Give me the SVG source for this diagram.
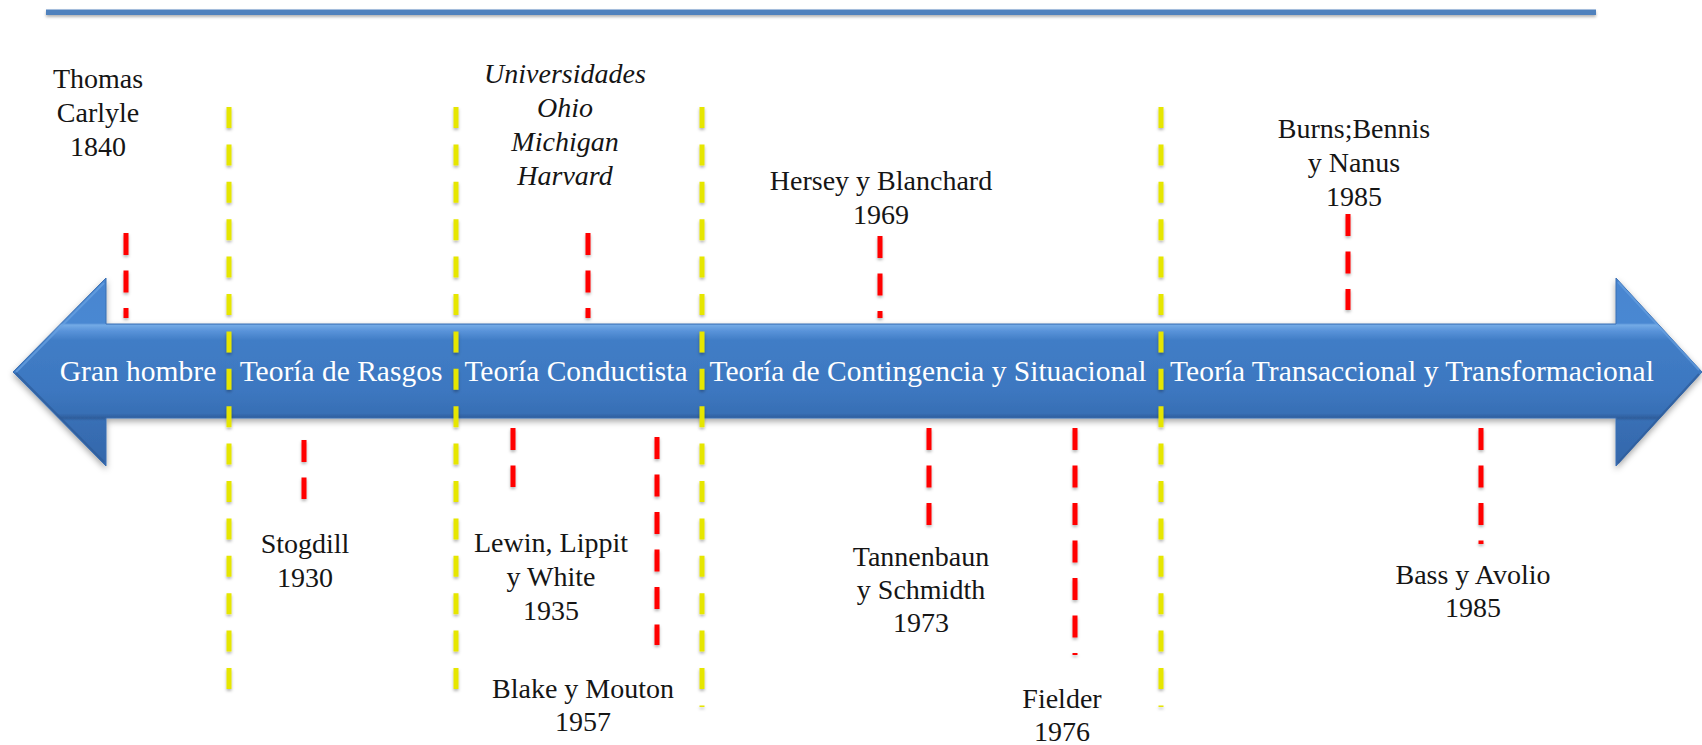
<svg xmlns="http://www.w3.org/2000/svg" width="1702" height="745" viewBox="0 0 1702 745">
<defs>
<linearGradient id="arrowGrad" x1="0" y1="278" x2="0" y2="466" gradientUnits="userSpaceOnUse">
<stop offset="0" stop-color="#4785d0"/>
<stop offset="0.24" stop-color="#4a88d2"/>
<stop offset="0.25" stop-color="#74abe6"/>
<stop offset="0.28" stop-color="#5a94da"/>
<stop offset="0.33" stop-color="#417dc6"/>
<stop offset="0.6" stop-color="#3c77c0"/>
<stop offset="0.72" stop-color="#386fb5"/>
<stop offset="0.745" stop-color="#2e5d9b"/>
<stop offset="0.76" stop-color="#386fb5"/>
<stop offset="1" stop-color="#3467aa"/>
</linearGradient>
<filter id="shadow" x="-5%" y="-20%" width="110%" height="140%">
<feDropShadow dx="0" dy="3" stdDeviation="3" flood-color="#000" flood-opacity="0.35"/>
</filter>
<filter id="lineShadow" filterUnits="userSpaceOnUse" x="0" y="0" width="1702" height="745">
<feDropShadow dx="0" dy="2" stdDeviation="1.5" flood-color="#000" flood-opacity="0.3"/>
</filter>
<style>
.lbl{font-family:"Liberation Serif","Times New Roman",serif;font-size:28px;fill:#151515;text-anchor:middle}
.it{font-style:italic}
.alb{font-family:"Liberation Serif","Times New Roman",serif;font-size:29.5px;fill:#ffffff;text-anchor:middle}
.yel{stroke:#e6e600;stroke-width:5;stroke-dasharray:21 16.4;fill:none}
.red{stroke:#ff0000;stroke-width:5;stroke-dasharray:22 15.5;fill:none}
</style>
</defs>

<g id="topline">
<rect x="46" y="9.5" width="1550" height="5.5" fill="#4f81bd" filter="url(#lineShadow)"/>
</g>

<g id="arrow">
<path d="M13,372 L106,278 L106,324 L1616,324 L1616,278 L1702,372 L1616,466 L1616,418 L106,418 L106,466 Z" fill="url(#arrowGrad)" stroke="#3a6fb3" stroke-width="1" filter="url(#shadow)"/>
<path d="M16,372 L104,283" stroke="#6aa3e3" stroke-width="2" fill="none" opacity="0.7"/>
<path d="M1618,282 L1699,370" stroke="#6aa3e3" stroke-width="2" fill="none" opacity="0.6"/>
<path d="M16,373 L104,462" stroke="#2d5b98" stroke-width="2" fill="none" opacity="0.7"/>
<path d="M1618,463 L1699,374" stroke="#2d5b98" stroke-width="2" fill="none" opacity="0.7"/>
<text class="alb" x="138" y="381">Gran hombre</text>
<text class="alb" x="341" y="381">Teoría de Rasgos</text>
<text class="alb" x="576" y="381">Teoría Conductista</text>
<text class="alb" x="928" y="381">Teoría de Contingencia y Situacional</text>
<text class="alb" x="1412" y="381">Teoría Transaccional y Transformacional</text>
</g>

<g id="connectors" filter="url(#lineShadow)">
<line class="yel" x1="229" y1="107" x2="229" y2="690"/>
<line class="yel" x1="456" y1="107" x2="456" y2="690"/>
<line class="yel" x1="702" y1="107" x2="702" y2="707"/>
<line class="yel" x1="1161" y1="107" x2="1161" y2="707"/>
<line class="red" x1="126" y1="233" x2="126" y2="318"/>
<line class="red" x1="588" y1="233" x2="588" y2="318"/>
<line class="red" x1="880" y1="236" x2="880" y2="318"/>
<line class="red" x1="1348" y1="214" x2="1348" y2="310"/>
<line class="red" x1="304" y1="440" x2="304" y2="499"/>
<line class="red" x1="513" y1="428" x2="513" y2="487"/>
<line class="red" x1="657" y1="437" x2="657" y2="645"/>
<line class="red" x1="929" y1="428" x2="929" y2="525"/>
<line class="red" x1="1075" y1="428" x2="1075" y2="655"/>
<line class="red" x1="1481" y1="428" x2="1481" y2="544"/>
</g>

<g id="carlyle">
<text class="lbl" x="98" y="88">Thomas</text>
<text class="lbl" x="98" y="122">Carlyle</text>
<text class="lbl" x="98" y="156">1840</text>
</g>
<g id="universidades">
<text class="lbl it" x="565" y="83">Universidades</text>
<text class="lbl it" x="565" y="117">Ohio</text>
<text class="lbl it" x="565" y="151">Michigan</text>
<text class="lbl it" x="565" y="185">Harvard</text>
</g>
<g id="hersey">
<text class="lbl" x="881" y="190">Hersey y Blanchard</text>
<text class="lbl" x="881" y="224">1969</text>
</g>
<g id="burns">
<text class="lbl" x="1354" y="138">Burns;Bennis</text>
<text class="lbl" x="1354" y="172">y Nanus</text>
<text class="lbl" x="1354" y="206">1985</text>
</g>
<g id="stogdill">
<text class="lbl" x="305" y="553">Stogdill</text>
<text class="lbl" x="305" y="587">1930</text>
</g>
<g id="lewin">
<text class="lbl" x="551" y="552">Lewin, Lippit</text>
<text class="lbl" x="551" y="586">y White</text>
<text class="lbl" x="551" y="620">1935</text>
</g>
<g id="blake">
<text class="lbl" x="583" y="698">Blake y Mouton</text>
<text class="lbl" x="583" y="731">1957</text>
</g>
<g id="tannenbaun">
<text class="lbl" x="921" y="566">Tannenbaun</text>
<text class="lbl" x="921" y="599">y Schmidth</text>
<text class="lbl" x="921" y="632">1973</text>
</g>
<g id="fielder">
<text class="lbl" x="1062" y="708">Fielder</text>
<text class="lbl" x="1062" y="741">1976</text>
</g>
<g id="bass">
<text class="lbl" x="1473" y="584">Bass y Avolio</text>
<text class="lbl" x="1473" y="617">1985</text>
</g>
</svg>
